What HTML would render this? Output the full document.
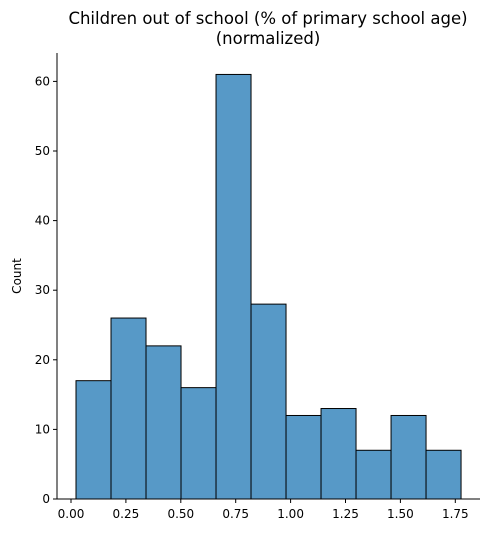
<!DOCTYPE html>
<html><head><meta charset="utf-8"><style>
body{margin:0;background:#fff;font-family:"Liberation Sans","DejaVu Sans",sans-serif;}
svg text{font-family:"DejaVu Sans","Liberation Sans",sans-serif;}
</style></head><body>
<svg id="chart" width="489" height="533" xmlns="http://www.w3.org/2000/svg">
<text x="268" y="24" font-size="16.5" text-anchor="middle" fill="#000">Children out of school (% of primary school age)</text>
<text x="268" y="44" font-size="16.5" text-anchor="middle" fill="#000">(normalized)</text>
<text transform="translate(21,276) rotate(-90)" font-size="12" text-anchor="middle">Count</text>
<g id="bars"></g><g id="axes"></g>
</svg>
<script>
const counts=[17,26,22,16,61,28,12,13,7,12,7];
const binStart=0.0228, binWidth=0.1594;
const yTicks=[0,10,20,30,40,50,60];
const xTicks=[0,0.25,0.5,0.75,1.0,1.25,1.5,1.75];
const xTickLabels=["0.00","0.25","0.50","0.75","1.00","1.25","1.50","1.75"];
const NS="http://www.w3.org/2000/svg";
const x=v=>71+v*219.6;
const y=v=>499-v*6.96;
const bars=document.getElementById('bars'),axes=document.getElementById('axes');
function mk(t,a,p){const e=document.createElementNS(NS,t);for(const k in a)e.setAttribute(k,a[k]);p.appendChild(e);return e;}
counts.forEach((c,i)=>{
 const x0=x(binStart+i*binWidth),x1=x(binStart+(i+1)*binWidth);
 const r=mk('rect',{x:x0,y:y(c),width:x1-x0,height:y(0)-y(c),fill:'#5799c7',stroke:'#000','stroke-width':1},bars);
 
 
});
const ls=mk('line',{x1:57,y1:53,x2:57,y2:499,stroke:'#000','stroke-width':1},axes);


const lb=mk('line',{x1:57,y1:499,x2:480,y2:499,stroke:'#000','stroke-width':1},axes);


yTicks.forEach(v=>{
 mk('line',{x1:53,x2:57,y1:y(v),y2:y(v),stroke:'#000'},axes);
 const t=mk('text',{x:50,y:y(v)+4,'font-size':12,'text-anchor':'end'},axes);t.textContent=v;
 
 
});
xTicks.forEach((v,i)=>{
 mk('line',{x1:x(v),x2:x(v),y1:499,y2:503,stroke:'#000'},axes);
 const t=mk('text',{x:x(v),y:518,'font-size':12,'text-anchor':'middle'},axes);t.textContent=xTickLabels[i];
 
 
});
</script>
</body></html>
